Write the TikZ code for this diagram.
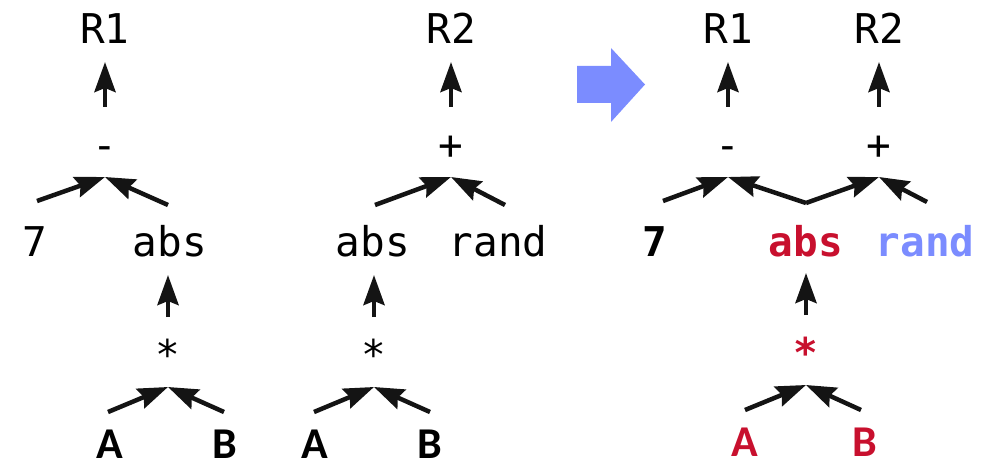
\documentclass[tikz,border=0pt]{standalone}
\usepackage{fontspec}
\setmonofont{DejaVu Sans Mono}
\newfontfamily\labelfont{Carlito}
\usetikzlibrary{arrows.meta}
\definecolor{hotred}{HTML}{C8102E}
\definecolor{softblue}{HTML}{7B8CFF}
\tikzset{
  term/.style={inner sep=0pt, anchor=base, font=\fontsize{41}{48}\selectfont\ttfamily},
  bterm/.style={term, font=\fontsize{41}{48}\selectfont\ttfamily\bfseries},
  leaf/.style={inner sep=0pt, anchor=base, font=\fontsize{44}{52}\selectfont\labelfont\bfseries},
  flow/.style={line width=4.5pt, draw=black!92, -{Stealth[length=30pt,width=21pt,inset=4pt]}},
}
\begin{document}
\begin{tikzpicture}[x=1pt,y=-1pt]
\useasboundingbox (0,0) rectangle (996,465);

% ---- first expression: R1 = 7 - abs(A*B)
\node[term] (r1a) at (105,44) {R1};
\node[term] (suba) at (105,160) {-};
\node[term] (sevena) at (35,256) {7};
\node[term] (absa) at (170,256) {abs};
\node[term] (mula) at (168,369) {*};
\node[leaf] (aa) at (110,458) {A};
\node[leaf] (ba) at (225,458) {B};
\coordinate (suba-in) at (105,177);
\coordinate (mula-in) at (168,387);
\draw[flow] (105,107) coordinate (suba-out) -- (105,62) coordinate (r1a-in);
\draw[flow] (37,201) coordinate (sevena-out) -- (suba-in);
\draw[flow] (168,205) coordinate (absa-out) -- (suba-in);
\draw[flow] (168,317) coordinate (mula-out) -- (168,275) coordinate (absa-in);
\draw[flow] (108,412) coordinate (aa-out) -- (mula-in);
\draw[flow] (224,412) coordinate (ba-out) -- (mula-in);

% ---- second expression: R2 = abs(A*B) + rand
\node[term] (r2a) at (451,44) {R2};
\node[term] (adda) at (451,160) {+};
\node[term] (absb) at (373,256) {abs};
\node[term] (randa) at (498,256) {rand};
\node[term] (mulb) at (374,369) {*};
\node[leaf] (ab) at (315,458) {A};
\node[leaf] (bb) at (430,458) {B};
\coordinate (adda-in) at (451,177);
\coordinate (mulb-in) at (374,387);
\draw[flow] (451,107) coordinate (adda-out) -- (451,62) coordinate (r2a-in);
\draw[flow] (375,205) coordinate (absb-out) -- (adda-in);
\draw[flow] (505,205) coordinate (randa-out) -- (adda-in);
\draw[flow] (374,317) coordinate (mulb-out) -- (374,275) coordinate (absb-in);
\draw[flow] (314,412) coordinate (ab-out) -- (mulb-in);
\draw[flow] (430,412) coordinate (bb-out) -- (mulb-in);

% ---- transformation arrow
\fill[softblue] (577,66) -- (611,66) -- (611,48) -- (645,84.5) -- (611,122) -- (611,103) -- (577,103) -- cycle;

% ---- shared subexpression version
\node[term] (r1c) at (728,44) {R1};
\node[term] (r2c) at (879,44) {R2};
\node[term] (subc) at (728,160) {-};
\node[term] (addc) at (879,160) {+};
\node[bterm] (sevenc) at (655,256) {7};
\node[bterm, text=hotred] (absc) at (806,256) {abs};
\node[bterm, text=softblue] (randc) at (925,256) {rand};
\node[bterm, text=hotred] (mulc) at (806,367) {*};
\node[leaf, text=hotred] (ac) at (745,456) {A};
\node[leaf, text=hotred] (bc) at (865,456) {B};
\coordinate (subc-in) at (728,177);
\coordinate (addc-in) at (879,177);
\coordinate (absc-out) at (806,203);
\coordinate (mulc-in) at (806,385);
\draw[flow] (728,107) coordinate (subc-out) -- (728,62) coordinate (r1c-in);
\draw[flow] (879,107) coordinate (addc-out) -- (879,62) coordinate (r2c-in);
\draw[flow] (663,201) coordinate (sevenc-out) -- (subc-in);
\draw[flow] (absc-out) -- (subc-in);
\draw[flow] (absc-out) -- (addc-in);
\draw[flow] (927,202) coordinate (randc-out) -- (addc-in);
\draw[flow] (806,315) coordinate (mulc-out) -- (806,273) coordinate (absc-in);
\draw[flow] (745,410) coordinate (ac-out) -- (mulc-in);
\draw[flow] (861,410) coordinate (bc-out) -- (mulc-in);
\end{tikzpicture}
\end{document}
